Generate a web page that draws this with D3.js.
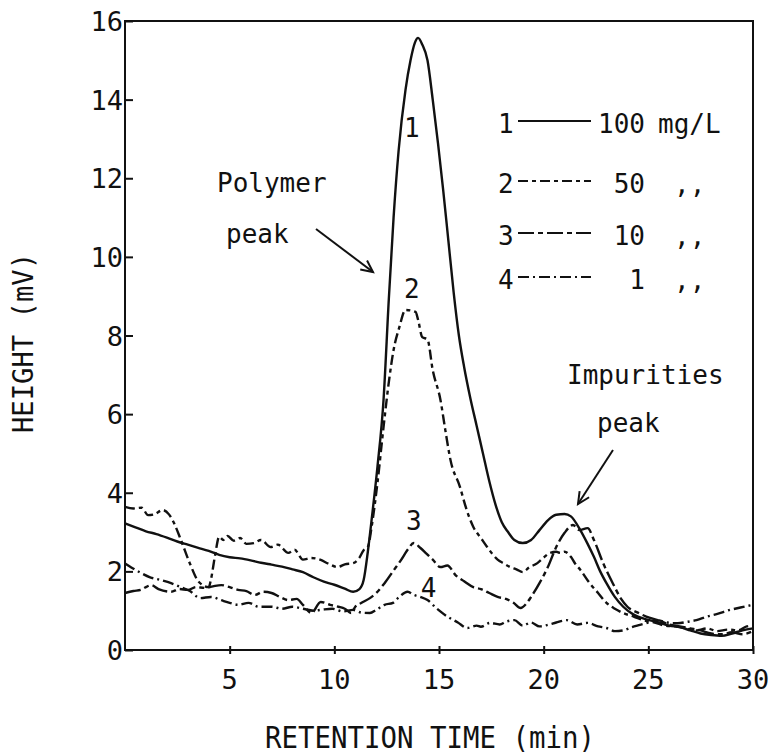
<!DOCTYPE html>
<html>
<head>
<meta charset="utf-8">
<script src="https://cdn.jsdelivr.net/npm/d3@7"></script>
<style>
  body { margin: 0; background: #fff; }
  text { font-family: "DejaVu Sans Mono", "Liberation Mono", monospace; fill: #111; }
</style>
</head>
<body>
<div id="chart"></div>
<script>
// series: [retention time (min), height (mV)]
const curve100 = [[0,3.22],[0.5,3.12],[1,3.02],[1.5,2.95],[2,2.86],[2.5,2.76],[3,2.68],[3.5,2.6],[4,2.52],[4.5,2.42],[5,2.36],[5.5,2.33],[6,2.28],[6.5,2.22],[7,2.17],[7.5,2.12],[8,2.05],[8.5,1.98],[9,1.85],[9.5,1.74],[10,1.66],[10.5,1.56],[10.9,1.48],[11.2,1.55],[11.4,1.78],[11.6,2.5],[11.8,3.4],[12.06,4.66],[12.35,6.36],[12.6,8.9],[12.83,11.0],[13.07,12.7],[13.4,14.25],[13.64,15.0],[13.85,15.45],[14.0,15.57],[14.2,15.4],[14.45,15.0],[14.7,14.0],[14.95,12.9],[15.2,11.7],[15.45,10.4],[15.7,9.1],[15.95,8.0],[16.2,7.2],[16.5,6.4],[16.8,5.7],[17.1,5.0],[17.4,4.3],[17.7,3.7],[18.0,3.25],[18.3,3.0],[18.6,2.8],[19.0,2.72],[19.4,2.8],[19.8,3.05],[20.2,3.3],[20.6,3.44],[21.0,3.46],[21.3,3.4],[21.75,3.05],[22.1,2.7],[22.4,2.37],[22.7,2.0],[23.0,1.7],[23.4,1.35],[23.8,1.1],[24.3,0.9],[24.9,0.78],[25.5,0.7],[26.0,0.62],[26.5,0.58],[27,0.5],[27.5,0.42],[28,0.38],[28.5,0.36],[29,0.42],[29.5,0.5],[30,0.55]];

const curve50 = [[0,3.64],[0.4,3.6],[0.8,3.62],[1.1,3.43],[1.4,3.45],[1.8,3.56],[2.1,3.45],[2.34,3.23],[2.67,2.8],[3.1,2.2],[3.53,1.73],[4.0,1.6],[4.1,1.78],[4.3,2.4],[4.5,2.88],[4.7,2.8],[4.9,2.9],[5.2,2.78],[5.5,2.85],[5.8,2.7],[6.15,2.72],[6.5,2.8],[6.96,2.62],[7.3,2.68],[7.8,2.47],[8.1,2.55],[8.5,2.3],[8.9,2.34],[9.35,2.29],[9.7,2.2],[10.15,2.11],[10.5,2.18],[10.9,2.21],[11.2,2.35],[11.4,2.54],[11.6,2.62],[11.8,3.2],[12.06,4.25],[12.35,5.67],[12.6,6.8],[12.83,7.63],[13.1,8.2],[13.4,8.65],[13.88,8.6],[14.0,8.4],[14.2,7.96],[14.45,7.9],[14.7,7.12],[15.07,6.36],[15.3,5.6],[15.55,4.83],[16.0,4.15],[16.3,3.6],[16.64,3.13],[17.0,2.85],[17.3,2.62],[17.8,2.3],[18.1,2.2],[18.4,2.11],[18.7,2.05],[19.0,1.98],[19.3,2.1],[19.7,2.21],[20.0,2.35],[20.3,2.47],[20.6,2.5],[20.8,2.47],[21.0,2.5],[21.3,2.37],[21.5,2.2],[21.75,2.04],[22.2,1.7],[22.6,1.45],[23.0,1.2],[23.4,1.05],[23.8,0.94],[24.3,0.85],[24.8,0.75],[25.3,0.7],[25.8,0.62],[26.3,0.6],[26.8,0.55],[27.3,0.5],[27.8,0.55],[28.3,0.48],[28.8,0.52],[29.3,0.5],[29.7,0.6],[30,0.62]];

const curve10 = [[0,1.45],[0.4,1.5],[0.76,1.53],[1.0,1.6],[1.24,1.65],[1.6,1.55],[2.2,1.48],[2.6,1.55],[3.0,1.53],[3.4,1.6],[3.8,1.58],[4.2,1.62],[4.6,1.65],[5.0,1.6],[5.4,1.53],[5.8,1.5],[6.2,1.4],[6.6,1.48],[7.0,1.45],[7.4,1.35],[7.8,1.27],[8.2,1.3],[8.5,1.15],[8.9,0.94],[9.35,1.22],[9.8,1.15],[10.2,1.1],[10.5,1.05],[10.8,0.94],[11.0,1.1],[11.3,1.2],[11.7,1.32],[12.0,1.45],[12.4,1.7],[12.8,2.0],[13.2,2.3],[13.5,2.55],[13.8,2.72],[14.1,2.6],[14.4,2.45],[14.7,2.3],[15.07,2.11],[15.4,2.15],[15.8,1.9],[16.2,1.75],[16.64,1.6],[17.0,1.55],[17.4,1.45],[17.8,1.35],[18.2,1.3],[18.56,1.2],[18.9,1.07],[19.2,1.2],[19.4,1.35],[19.8,1.7],[20.2,2.11],[20.6,2.62],[21.0,2.98],[21.4,3.18],[21.7,3.05],[22.1,3.1],[22.4,2.8],[22.85,2.2],[23.3,1.7],[23.7,1.3],[24.0,1.1],[24.5,0.95],[24.9,0.85],[25.5,0.75],[26,0.65],[26.5,0.6],[27,0.55],[27.5,0.5],[28,0.42],[28.5,0.4],[29,0.45],[29.5,0.4],[30,0.48]];

const curve1 = [[0,2.2],[0.3,2.1],[0.76,1.96],[1.2,1.85],[1.7,1.78],[2.2,1.7],[2.67,1.6],[3.1,1.5],[3.6,1.32],[4.1,1.35],[4.58,1.27],[5.0,1.2],[5.4,1.15],[5.9,1.2],[6.4,1.1],[7.0,1.1],[7.5,1.05],[8.0,1.1],[8.5,1.05],[9.0,1.0],[9.35,1.02],[9.9,1.05],[10.4,0.98],[10.9,1.02],[11.3,0.95],[11.7,0.94],[12.0,1.02],[12.4,1.15],[12.8,1.2],[13.1,1.35],[13.5,1.48],[13.8,1.4],[14.1,1.35],[14.45,1.27],[14.9,1.05],[15.4,0.85],[15.9,0.7],[16.35,0.56],[16.8,0.62],[17.0,0.59],[17.45,0.69],[17.9,0.65],[18.2,0.72],[18.6,0.76],[19.0,0.62],[19.4,0.7],[19.8,0.6],[20.2,0.64],[20.6,0.7],[21.1,0.76],[21.6,0.65],[22.1,0.69],[22.6,0.6],[23.0,0.56],[23.4,0.48],[23.8,0.5],[24.2,0.58],[24.6,0.64],[25.0,0.7],[25.4,0.76],[25.9,0.7],[26.4,0.68],[26.9,0.72],[27.3,0.76],[27.8,0.85],[28.3,0.92],[28.9,1.02],[29.4,1.08],[30,1.15]];

const xTicks = [5, 10, 15, 20, 25, 30]
const yTicks = [0, 2, 4, 6, 8, 10, 12, 14, 16]

const legendNumbers = ["1", "2", "3", "4"]
const legendConc = ["100", "50", "10", "1"]
const legendUnits = ["mg/L", ",,", ",,", ",,"]

// curve labels at the peaks: [label, retention time, height]
const peakLabels = [["1", 13.7, 13.3], ["2", 13.7, 9.2], ["3", 13.8, 3.3], ["4", 14.5, 1.6]]

const width = 771, height = 754
const svg = d3.select("#chart").append("svg")
    .attr("width", width)
    .attr("height", height)

const x = d3.scaleLinear().domain([0, 30]).range([125, 753])
const y = d3.scaleLinear().domain([0, 16]).range([650, 21])

const series = [
    { data: curve100, dash: null },
    { data: curve50, dash: "10,4,4,4" },
    { data: curve10, dash: "16,4,5,4" },
    { data: curve1, dash: "11,4,2,4" }
]

// frame
svg.append("rect")
    .attr("x", x(0)).attr("y", y(16))
    .attr("width", x(30) - x(0)).attr("height", y(0) - y(16))
    .attr("fill", "none").attr("stroke", "#111").attr("stroke-width", 2)

// y axis, ticks point inward
const yAxis = svg.append("g")
    .attr("transform", "translate(" + x(0) + ",0)")
    .call(d3.axisRight(y).tickValues(yTicks).tickSize(8).tickFormat(""))
yAxis.select(".domain").remove()
yAxis.selectAll("line").attr("stroke", "#111").attr("stroke-width", 2)

svg.append("g").selectAll("text")
    .data(yTicks)
    .enter().append("text")
    .attr("x", x(0) - 2)
    .attr("y", d => y(d) + 10)
    .attr("text-anchor", "end")
    .attr("font-size", 27)
    .text(d => d)

// x axis, ticks cross the line
const xAxis = svg.append("g")
    .attr("transform", "translate(0," + (y(0) + 4) + ")")
    .call(d3.axisTop(x).tickValues(xTicks).tickSize(8).tickFormat(""))
xAxis.select(".domain").remove()
xAxis.selectAll("line").attr("stroke", "#111").attr("stroke-width", 2)

svg.append("g").selectAll("text")
    .data(xTicks)
    .enter().append("text")
    .attr("x", d => x(d))
    .attr("y", 689)
    .attr("text-anchor", "middle")
    .attr("font-size", 27)
    .text(d => d)

svg.append("text")
    .attr("x", 430).attr("y", 748)
    .attr("text-anchor", "middle")
    .attr("font-size", 30)
    .attr("textLength", 330)
    .attr("lengthAdjust", "spacingAndGlyphs")
    .text("RETENTION TIME (min)")

svg.append("text")
    .attr("transform", "translate(33,343) rotate(-90)")
    .attr("text-anchor", "middle")
    .attr("font-size", 28)
    .attr("textLength", 180)
    .attr("lengthAdjust", "spacingAndGlyphs")
    .text("HEIGHT (mV)")

// curves
const line = d3.line()
    .x(d => x(d[0]))
    .y(d => y(d[1]))
    .curve(d3.curveMonotoneX)

svg.append("g").selectAll("path")
    .data(series)
    .enter().append("path")
    .attr("d", d => line(d.data))
    .attr("fill", "none")
    .attr("stroke", "#111")
    .attr("stroke-width", 2.4)
    .attr("stroke-linejoin", "round")
    .attr("stroke-dasharray", d => d.dash)

// peak numbers
svg.append("g").selectAll("text")
    .data(peakLabels)
    .enter().append("text")
    .attr("x", d => x(d[1]))
    .attr("y", d => y(d[2]) + 10)
    .attr("text-anchor", "middle")
    .attr("font-size", 26)
    .text(d => d[0])

// legend
const legendY = [123, 183, 235, 279]
const legend = svg.append("g").selectAll("g")
    .data(legendNumbers)
    .enter().append("g")
    .attr("transform", (d, i) => "translate(0," + legendY[i] + ")")

legend.append("text")
    .attr("x", 498).attr("y", 10)
    .attr("font-size", 26)
    .text(d => d)

legend.append("line")
    .attr("x1", 518).attr("x2", 591)
    .attr("y1", -2).attr("y2", -2)
    .attr("stroke", "#111").attr("stroke-width", 2)
    .attr("stroke-dasharray", (d, i) => series[i].dash)

legend.append("text")
    .attr("x", 645).attr("y", 10)
    .attr("text-anchor", "end")
    .attr("font-size", 26)
    .text((d, i) => legendConc[i])

legend.append("text")
    .attr("x", (d, i) => i === 0 ? 658 : 674).attr("y", 10)
    .attr("font-size", 26)
    .text((d, i) => legendUnits[i])

// annotations
const arrowLine = (x1, y1, x2, y2) => {
    const g = svg.append("g").attr("stroke", "#111").attr("stroke-width", 2).attr("fill", "none")
    g.append("line").attr("x1", x1).attr("y1", y1).attr("x2", x2).attr("y2", y2)
    const a = Math.atan2(y2 - y1, x2 - x1)
    const len = 13
    const pts = [a + Math.PI - 0.45, a + Math.PI + 0.45]
        .map(t => [x2 + len * Math.cos(t), y2 + len * Math.sin(t)])
    g.append("path").attr("d", "M" + pts[0] + "L" + x2 + "," + y2 + "L" + pts[1])
}

svg.append("text").attr("x", 217).attr("y", 192).attr("font-size", 26).text("Polymer")
svg.append("text").attr("x", 226).attr("y", 243).attr("font-size", 26).text("peak")
arrowLine(316, 229, 373, 272)

svg.append("text").attr("x", 567).attr("y", 384).attr("font-size", 26).text("Impurities")
svg.append("text").attr("x", 597).attr("y", 432).attr("font-size", 26).text("peak")
arrowLine(613, 450, 578, 504)
</script>
</body>
</html>
